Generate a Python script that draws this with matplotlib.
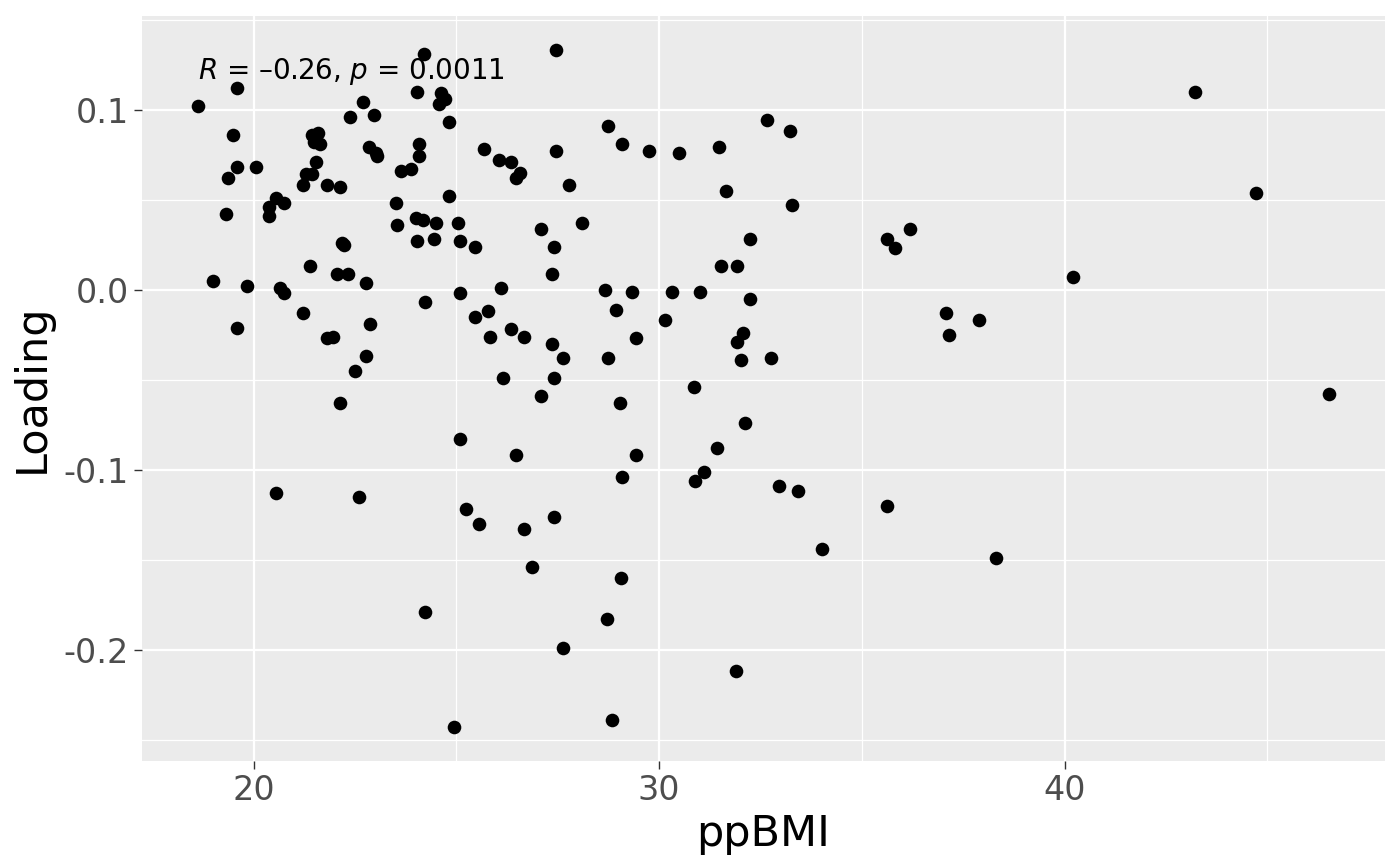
import numpy as np
import matplotlib
matplotlib.use("Agg")
import matplotlib.pyplot as plt
from matplotlib.ticker import MultipleLocator

# ppBMI vs loading
ppbmi = np.array([
    24.19, 19.58, 18.64, 24.02, 24.61, 24.73, 24.56, 22.71, 22.37, 22.98,
    19.48, 21.45, 21.60, 21.48, 21.63, 24.09, 24.07, 22.84, 23.03, 23.05,
    19.58, 20.05, 19.36, 21.53, 21.28, 21.45, 21.21, 21.80, 22.12, 23.63,
    23.87, 19.31, 20.54, 20.74, 20.39, 20.39, 23.50, 23.53, 24.00, 24.17,
    24.49, 24.04, 24.44, 22.19, 22.22, 21.38, 27.45, 24.81, 25.67, 26.04,
    26.34, 26.56, 26.46, 27.47, 27.79, 28.73, 29.08, 29.74, 30.48, 31.49,
    24.83, 25.03, 25.10, 25.45, 27.10, 28.09, 27.40, 19.01, 19.83, 20.64,
    20.74, 22.05, 22.32, 22.76, 24.22, 21.23, 19.58, 22.86, 21.80, 21.97,
    22.76, 22.49, 22.12, 20.54, 22.59, 27.35, 25.08, 26.09, 25.47, 25.77,
    25.84, 26.36, 26.66, 27.35, 27.64, 28.66, 29.32, 28.93, 29.42, 28.73,
    30.33, 31.02, 30.14, 26.14, 27.40, 27.10, 29.03, 30.85, 25.08, 26.46,
    29.42, 29.08, 31.44, 31.12, 30.88, 31.52, 25.25, 25.57, 26.68, 27.40,
    26.86, 29.05, 24.22, 28.71, 27.64, 31.89, 24.93, 28.85, 32.65, 33.24,
    31.66, 33.27, 32.23, 36.18, 35.61, 35.81, 31.91, 37.07, 37.88, 37.16,
    32.06, 31.91, 32.03, 32.77, 32.13, 32.95, 33.42, 40.22, 32.23, 35.61,
    34.03, 38.30, 43.21, 44.71, 46.51,
])
loading = np.array([
    0.131, 0.112, 0.102, 0.110, 0.109, 0.106, 0.103, 0.104, 0.096, 0.097,
    0.086, 0.086, 0.087, 0.082, 0.081, 0.081, 0.074, 0.079, 0.076, 0.074,
    0.068, 0.068, 0.062, 0.071, 0.064, 0.064, 0.058, 0.058, 0.057, 0.066,
    0.067, 0.042, 0.051, 0.048, 0.046, 0.041, 0.048, 0.036, 0.040, 0.039,
    0.037, 0.027, 0.028, 0.026, 0.025, 0.013, 0.133, 0.093, 0.078, 0.072,
    0.071, 0.065, 0.062, 0.077, 0.058, 0.091, 0.081, 0.077, 0.076, 0.079,
    0.052, 0.037, 0.027, 0.024, 0.034, 0.037, 0.024, 0.005, 0.002, 0.001,
    -0.002, 0.009, 0.009, 0.004, -0.007, -0.013, -0.021, -0.019, -0.027, -0.026,
    -0.037, -0.045, -0.063, -0.113, -0.115, 0.009, -0.002, 0.001, -0.015, -0.012,
    -0.026, -0.022, -0.026, -0.030, -0.038, 0.000, -0.001, -0.011, -0.027, -0.038,
    -0.001, -0.001, -0.017, -0.049, -0.049, -0.059, -0.063, -0.054, -0.083, -0.092,
    -0.092, -0.104, -0.088, -0.101, -0.106, 0.013, -0.122, -0.130, -0.133, -0.126,
    -0.154, -0.160, -0.179, -0.183, -0.199, -0.212, -0.243, -0.239, 0.094, 0.088,
    0.055, 0.047, 0.028, 0.034, 0.028, 0.023, 0.013, -0.013, -0.017, -0.025,
    -0.024, -0.029, -0.039, -0.038, -0.074, -0.109, -0.112, 0.007, -0.005, -0.120,
    -0.144, -0.149, 0.110, 0.054, -0.058,
])
cor_label = r"$R$ = –0.26, $p$ = 0.0011"

fig = plt.figure(figsize=(7, 4.325), dpi=200)
ax = fig.add_axes([0.1014, 0.1202, 0.8879, 0.8608])
ax.set_facecolor("#EBEBEB")

ax.scatter(ppbmi, loading, s=24, color="black", linewidths=0, zorder=3)

# ggplot style 5% expansion
def expand(v):
    r = v.max() - v.min()
    return v.min() - 0.05 * r, v.max() + 0.05 * r

ax.set_xlim(*expand(ppbmi))
ax.set_ylim(*expand(loading))

ax.xaxis.set_major_locator(MultipleLocator(10))
ax.xaxis.set_minor_locator(MultipleLocator(5))
ax.yaxis.set_major_locator(MultipleLocator(0.1))
ax.yaxis.set_minor_locator(MultipleLocator(0.05))
ax.yaxis.set_major_formatter(lambda v, p: f"{v:.1f}".replace("−", "-"))

ax.grid(which="major", color="white", linewidth=0.8)
ax.grid(which="minor", color="white", linewidth=0.45)
ax.set_axisbelow(True)
for s in ax.spines.values():
    s.set_visible(False)

ax.tick_params(which="major", length=2.75, width=0.5, color="#333333",
               labelsize=12, labelcolor="#4D4D4D", pad=2)
ax.tick_params(which="minor", length=0)

ax.set_xlabel("ppBMI", fontsize=15.5, labelpad=2)
ax.set_ylabel("Loading", fontsize=15.5, labelpad=4)

ax.text(ppbmi.min(), loading.max() - 0.003, cor_label, fontsize=10,
        ha="left", va="top")

fig.savefig("out.png", dpi=200)
